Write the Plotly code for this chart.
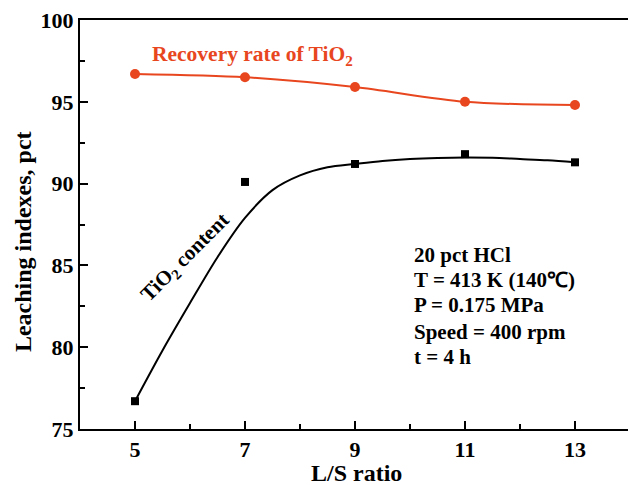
import plotly.graph_objects as go

# Data
ls_ratio = [5, 7, 9, 11, 13]
recovery_rate = [96.7, 96.5, 95.9, 95.0, 94.8]
tio2_content = [76.7, 90.1, 91.2, 91.8, 91.3]
# fitted curve of TiO2 content
fit_x = [5, 5.5, 6, 6.5, 7, 7.5, 8, 8.5, 9, 9.5, 10, 10.5, 11, 11.5, 12, 12.5, 13]
fit_y = [76.7, 79.8, 82.7, 85.5, 87.9, 89.6, 90.5, 91.0, 91.2, 91.38, 91.5, 91.57,
         91.6, 91.58, 91.5, 91.42, 91.3]

x_ticks = [5, 7, 9, 11, 13]
y_ticks = [75, 80, 85, 90, 95, 100]
conditions = ["20 pct HCl", "T = 413 K (140\u2103)", "P = 0.175 MPa",
              "Speed = 400 rpm", "t = 4 h"]

RED = "#e8461e"
FONT = "Liberation Serif"

fig = go.Figure()
fig.add_trace(go.Scatter(x=ls_ratio, y=recovery_rate, mode="lines+markers",
                         line=dict(color=RED, width=2, shape="spline", smoothing=0.8),
                         marker=dict(color=RED, size=10, symbol="circle"),
                         showlegend=False))
fig.add_trace(go.Scatter(x=fit_x, y=fit_y, mode="lines",
                         line=dict(color="black", width=2, shape="spline", smoothing=0.9),
                         showlegend=False))
fig.add_trace(go.Scatter(x=ls_ratio, y=tio2_content, mode="markers",
                         marker=dict(color="black", size=8, symbol="square"),
                         showlegend=False))

axis_common = dict(showline=True, linecolor="black", linewidth=2,
                   ticks="inside", tickcolor="black", tickwidth=2, ticklen=8,
                   showgrid=False, zeroline=False,
                   tickfont=dict(family=FONT, size=22, color="black", weight="bold"))

fig.update_xaxes(range=[4, 13.964], tickvals=x_ticks, mirror=True,
                 minor=dict(dtick=1, ticks="inside", ticklen=5, tickwidth=2, tickcolor="black"),
                 **axis_common)
fig.update_yaxes(range=[75, 100], tickvals=y_ticks, mirror=False,
                 minor=dict(dtick=2.5, ticks="inside", ticklen=5, tickwidth=2, tickcolor="black"),
                 **axis_common)

ann = []
ann.append(dict(x=5.27, y=97.85, xref="x", yref="y", xanchor="left", yanchor="middle",
                text="Recovery rate of TiO<sub>2</sub>", showarrow=False,
                font=dict(family=FONT, size=21.5, color=RED, weight="bold")))
ann.append(dict(x=5.91, y=85.45, xref="x", yref="y", xanchor="center", yanchor="middle",
                text="TiO<sub>2</sub> content", showarrow=False, textangle=-45,
                font=dict(family=FONT, size=21, color="black", weight="bold")))
ys = [85.64, 84.11, 82.58, 80.93, 79.40]
for t, yv in zip(conditions, ys):
    ann.append(dict(x=10.04, y=yv, xref="x", yref="y", xanchor="left", yanchor="middle",
                    text=t, showarrow=False,
                    font=dict(family=FONT, size=21, color="black", weight="bold")))
ann.append(dict(x=0.504, y=-0.108, xref="paper", yref="paper", xanchor="center", yanchor="middle",
                text="L/S ratio", showarrow=False,
                font=dict(family=FONT, size=24, color="black", weight="bold")))
ann.append(dict(x=-0.104, y=0.457, xref="paper", yref="paper", xanchor="center", yanchor="middle",
                text="Leaching indexes, pct", showarrow=False, textangle=-90,
                font=dict(family=FONT, size=24, color="black", weight="bold")))

fig.update_layout(width=628, height=485, margin=dict(l=80, r=0, t=20, b=56),
                  paper_bgcolor="white", plot_bgcolor="white", annotations=ann)

fig.write_html("out.html")
